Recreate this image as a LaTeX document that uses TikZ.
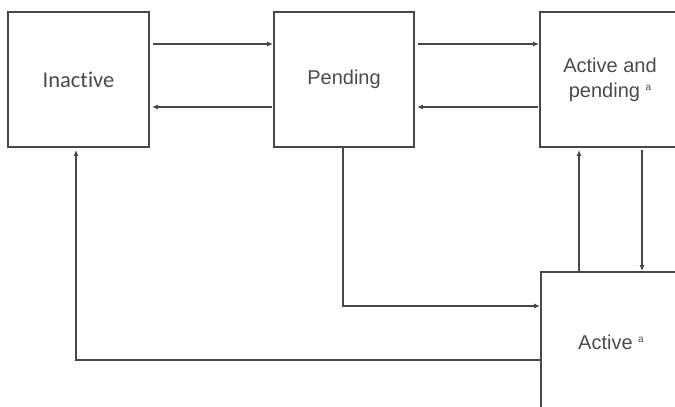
\documentclass[tikz,border=0pt]{standalone}
\usepackage{fontspec}
\setmainfont{Liberation Sans}
\newfontfamily\calfont[Ligatures={NoCommon,NoContextual}]{Carlito}
\usepackage{xcolor}
\usepackage{tikz}
\usetikzlibrary{positioning, arrows.meta, calc}

\definecolor{lineg}{HTML}{45484D}
\definecolor{textg}{HTML}{484B50}
\newcommand{\supa}{\raisebox{7pt}{\fontsize{10}{10}\selectfont a}}

\begin{document}
\begin{tikzpicture}[x=1pt, y=-1pt,
    statebox/.style={draw=lineg, line width=1.8pt, rectangle, minimum width=140pt, minimum height=135pt, align=center, text=textg, font=\fontsize{20}{25}\selectfont, inner sep=0pt},
    conn/.style={draw=lineg, line width=1.7pt, -{Latex[length=6pt, width=5pt]}}]
    \useasboundingbox (0, 0) rectangle (675, 407);

    \node[statebox, minimum width=141pt] (inactive) at (78.5, 79.5) {\calfont\fontsize{22.5}{25}\selectfont Inactive};
    \node[statebox] (pending) at (344, 79.5) {\raisebox{-2pt}{Pending}};
    \node[statebox] (actpend) at (610, 79.5) {Active and\\pending \supa};
    \node[statebox, minimum height=140pt] (active) at (611, 342) {Active \supa};

    % top row
    \draw[conn, shorten <=3pt] ([yshift=35.5pt]inactive.east) -- ([yshift=35.5pt]pending.west);
    \draw[conn, shorten <=1pt, shorten >=2pt] ([yshift=-27.5pt]pending.west) -- ([yshift=-27.5pt]inactive.east);
    \draw[conn, shorten <=3pt] ([yshift=35.5pt]pending.east) -- ([yshift=35.5pt]actpend.west);
    \draw[conn, shorten <=1pt, shorten >=2pt] ([yshift=-27.5pt]actpend.west) -- ([yshift=-27.5pt]pending.east);

    % right column
    \draw[conn, shorten >=2pt] ([xshift=-32pt]active.north) -- ([xshift=-31pt]actpend.south);
    \draw[conn, shorten <=2pt] ([xshift=32pt]actpend.south) -- ([xshift=31pt]active.north);

    % long paths
    \draw[conn] ([xshift=-1pt]pending.south) |- ([yshift=36pt]active.west);
    \draw[conn, shorten >=2pt] ([yshift=-18pt]active.west) -| ([xshift=-2.5pt]inactive.south);
\end{tikzpicture}
\end{document}
